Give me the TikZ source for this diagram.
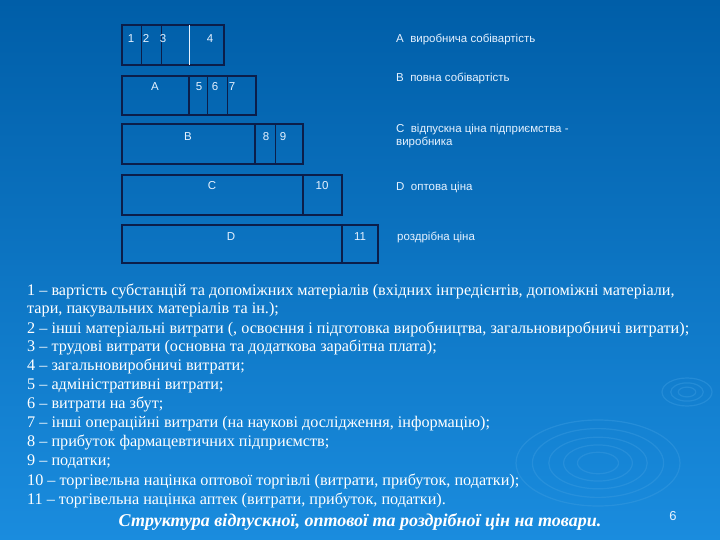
\documentclass[tikz,border=0pt]{standalone}
\usepackage{fontspec}
\setmainfont{Liberation Serif}
\newfontfamily\lsans{Liberation Sans}
\definecolor{bgtop}{HTML}{005EA8}
\definecolor{bgbot}{HTML}{1A8CDE}
\definecolor{barline}{HTML}{0B1E4A}
\definecolor{labtext}{HTML}{E6F2FF}
\definecolor{ripple}{HTML}{3A9BE0}
\tikzset{
  bar/.style={draw=barline, line width=1.6pt, anchor=north west, inner sep=0pt, outer sep=0pt},
  div/.style={draw=barline, line width=1pt},
  thickdiv/.style={draw=barline, line width=1.8pt},
  lab/.style={text=labtext, font=\lsans\fontsize{11.5}{13}\selectfont, inner sep=0pt, anchor=base},
  side/.style={text=labtext, font=\lsans\fontsize{11.5}{13}\selectfont, anchor=base west, inner sep=0pt},
  legend/.style={text=white, font=\fontsize{16.2}{19}\selectfont, anchor=base west, inner sep=0pt},
  rip/.style={draw=ripple, line width=1.2pt, opacity=0.45}
}
\begin{document}
\begin{tikzpicture}[x=1pt,y=-1pt]
\useasboundingbox (0,0) rectangle (720,540);
\shade[top color=bgtop, bottom color=bgbot] (0,0) rectangle (720,540);
% ripples
\foreach \r in {1,0.8,0.6,0.42,0.25}{
  \draw[rip] (598,463) ellipse ({82*\r} and {43*\r});
}
\foreach \r in {1,0.65,0.35}{
  \draw[rip] (687,392) ellipse ({25*\r} and {14*\r});
}
% row 1
\node[bar, minimum width=102pt, minimum height=40pt] (r1) at (122,25) {};
\draw[div] (141,25) -- (141,65);
\draw[div] (161,25) -- (161,65);
\draw[draw=labtext, line width=0.8pt] (189,25) -- (189,65);
\node[lab] (n1) at (131,42.5) {1};
\node[lab] (n2) at (146,42.5) {2};
\node[lab] (n3) at (163,42.5) {3};
\node[lab] (n4) at (210,43) {4};
% row 2
\node[bar, minimum width=134pt, minimum height=39pt] (r2) at (122,76) {};
\draw[thickdiv] (189,76) -- (189,115);
\draw[div] (207,76) -- (207,115);
\draw[div] (227,76) -- (227,115);
\node[lab] (nA) at (155,90.5) {A};
\node[lab] (n5) at (199,91) {5};
\node[lab] (n6) at (215,91) {6};
\node[lab] (n7) at (232,91) {7};
% row 3
\node[bar, minimum width=181pt, minimum height=40pt] (r3) at (122,124) {};
\draw[thickdiv] (255,124) -- (255,164);
\draw[div] (275,124) -- (275,164);
\node[lab] (nB) at (188,140.5) {B};
\node[lab] (n8) at (266,140.5) {8};
\node[lab] (n9) at (283,140.5) {9};
% row 4
\node[bar, minimum width=220pt, minimum height=40pt] (r4) at (122,175) {};
\draw[thickdiv] (303,175) -- (303,215);
\node[lab] (nC) at (212,189.5) {C};
\node[lab] (n10) at (322,189.5) {10};
% row 5
\node[bar, minimum width=256pt, minimum height=38pt] (r5) at (122,225) {};
\draw[thickdiv] (342,225) -- (342,263);
\node[lab] (nD) at (231,240.5) {D};
\node[lab] (n11) at (360,240.5) {11};
% side texts
\node[side] (sA) at (396,42.5) {A\ \ виробнича собівартість};
\node[side] (sB) at (396,81.5) {B\ \ повна собівартість};
\node[side] (sC) at (396,132.5) {C\ \ відпускна ціна підприємства -};
\node[side] (sC2) at (396,145.5) {виробника};
\node[side] (sD) at (396,190.5) {D\ \ оптова ціна};
\node[side] (sE) at (397,240.5) {роздрібна ціна};
% legend
\node[legend] (l1) at (27,295.5) {1 – вартість субстанцій та допоміжних матеріалів (вхідних інгредієнтів, допоміжні матеріали,};
\node[legend] (l1b) at (27,313) {тари, пакувальних матеріалів та ін.);};
\node[legend] (l2) at (27,333.5) {2 – інші матеріальні витрати (, освоєння і підготовка виробництва, загальновиробничі витрати);};
\node[legend] (l3) at (27,351.5) {3 – трудові витрати (основна та додаткова зарабітна плата);};
\node[legend] (l4) at (27,370.5) {4 – загальновиробничі витрати;};
\node[legend] (l5) at (27,389.5) {5 – адміністративні витрати;};
\node[legend] (l6) at (27,408.5) {6 – витрати на збут;};
\node[legend] (l7) at (27,427.5) {7 – інші операційні витрати (на наукові дослідження, інформацію);};
\node[legend] (l8) at (27,446.5) {8 – прибуток фармацевтичних підприємств;};
\node[legend] (l9) at (27,465.5) {9 – податки;};
\node[legend] (l10) at (27,485.5) {10 – торгівельна націнка оптової торгівлі (витрати, прибуток, податки);};
\node[legend] (l11) at (27,504.5) {11 – торгівельна націнка аптек (витрати, прибуток, податки).};
\node[text=white, font=\bfseries\itshape\fontsize{18}{21}\selectfont, inner sep=0pt, anchor=base] (cap) at (360,526) {Структура відпускної, оптової та роздрібної цін на товари.};
\node[text=labtext, font=\lsans\fontsize{13}{15}\selectfont, inner sep=0pt, anchor=base] (pg) at (673,520) {6};
\end{tikzpicture}
\end{document}
